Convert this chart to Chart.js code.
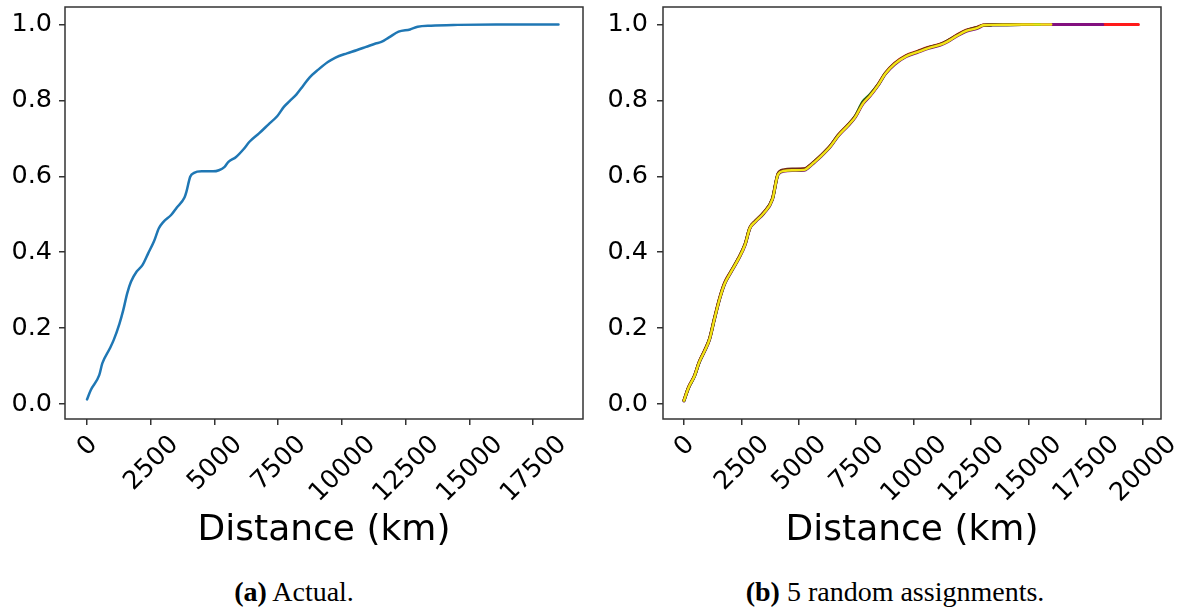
<!DOCTYPE html>
<html>
<head>
<meta charset="utf-8">
<script src="https://cdn.jsdelivr.net/npm/chart.js@4.4.1/dist/chart.umd.min.js"></script>
<style>
  html, body { margin: 0; background: #fff; width: 1181px; height: 609px; overflow: hidden; position: relative; }
  .pane { position: absolute; top: 0; height: 560px; }
  .cap { position: absolute; top: 576px; font: 28px "Liberation Serif", "Times New Roman", serif; color: #000; white-space: nowrap; transform: translateX(-50%); }
</style>
</head>
<body>
<div class="pane" style="left:0;width:595px"><canvas id="cA" width="595" height="560"></canvas></div>
<div class="pane" style="left:595px;width:586px"><canvas id="cB" width="586" height="560"></canvas></div>
<div class="cap" style="left:294px"><b>(a)</b> Actual.</div>
<div class="cap" style="left:895px"><b>(b)</b> 5 random assignments.</div>

<script>
// tick labels
const yTicks = [0, 0.2, 0.4, 0.6, 0.8, 1.0];
const xTicksA = [0, 2500, 5000, 7500, 10000, 12500, 15000, 17500];
const xTicksB = [0, 2500, 5000, 7500, 10000, 12500, 15000, 17500, 20000];

// (a) actual
const distA = [0, 150, 480, 600, 900, 1050, 1275, 1425, 1575, 1725, 1950, 2175, 2400, 2625, 2820, 3000, 3300, 3525, 3825, 3900,
  4050, 4200, 4500, 4950, 5175, 5400, 5550, 5850, 6150, 6375, 6750, 7125, 7470, 7725, 7950, 8220, 8475, 8730, 9075, 9450,
  9750, 10200, 10575, 10950, 11325, 11550, 11850, 12225, 12675, 12975, 13500, 14550, 16050, 18500];
const cdfA = [0.012, 0.037, 0.076, 0.107, 0.147, 0.169, 0.212, 0.248, 0.291, 0.322, 0.349, 0.366, 0.397, 0.428, 0.463, 0.480, 0.498, 0.518, 0.544, 0.559,
  0.599, 0.609, 0.613, 0.613, 0.616, 0.625, 0.638, 0.651, 0.672, 0.691, 0.713, 0.737, 0.759, 0.783, 0.798, 0.816, 0.838, 0.860, 0.881, 0.901,
  0.913, 0.924, 0.932, 0.941, 0.950, 0.954, 0.966, 0.981, 0.987, 0.994, 0.997, 0.999, 1.0, 1.0];

// (b) 5 random assignments
const distB = [0, 197, 459, 656, 902, 1115, 1311, 1557, 1770, 2049, 2377, 2656, 2869, 3115, 3475, 3852, 4098, 4344, 4754, 5246,
  5410, 5656, 5984, 6393, 6721, 7131, 7459, 7787, 8115, 8443, 8770, 9180, 9672, 10164, 10656, 11148, 11475, 11885, 12295, 12787,
  13033, 13443, 14754];
const cdfRed = [0.010, 0.044, 0.075, 0.110, 0.142, 0.173, 0.223, 0.281, 0.320, 0.350, 0.385, 0.421, 0.465, 0.483, 0.505, 0.541, 0.607, 0.616, 0.618, 0.619,
  0.625, 0.638, 0.656, 0.682, 0.709, 0.735, 0.758, 0.793, 0.815, 0.841, 0.872, 0.898, 0.918, 0.929, 0.940, 0.948, 0.957, 0.972, 0.985, 0.993,
  0.999, 1.0, 1.0];
const cdfPurple = [0.008, 0.042, 0.073, 0.108, 0.139, 0.170, 0.219, 0.277, 0.316, 0.347, 0.382, 0.418, 0.462, 0.480, 0.502, 0.538, 0.604, 0.613, 0.615, 0.616,
  0.622, 0.635, 0.653, 0.679, 0.706, 0.732, 0.755, 0.790, 0.812, 0.838, 0.869, 0.895, 0.915, 0.926, 0.937, 0.945, 0.954, 0.969, 0.982, 0.990,
  0.997, 0.999, 1.0];
const cdfGreen = [0.009, 0.043, 0.074, 0.109, 0.141, 0.172, 0.221, 0.279, 0.318, 0.349, 0.384, 0.420, 0.464, 0.482, 0.504, 0.540, 0.606, 0.615, 0.617, 0.618,
  0.624, 0.637, 0.655, 0.681, 0.708, 0.734, 0.758, 0.796, 0.816, 0.840, 0.871, 0.897, 0.917, 0.928, 0.939, 0.947, 0.956, 0.971, 0.984, 0.992,
  0.998, 0.999, 1.0];
const cdfBrown = [0.010, 0.044, 0.075, 0.110, 0.141, 0.172, 0.221, 0.279, 0.318, 0.349, 0.384, 0.420, 0.464, 0.482, 0.504, 0.541, 0.607, 0.617, 0.619, 0.620,
  0.625, 0.637, 0.655, 0.681, 0.708, 0.734, 0.757, 0.792, 0.814, 0.840, 0.871, 0.897, 0.917, 0.928, 0.939, 0.947, 0.956, 0.971, 0.984, 0.992,
  0.998, 0.999, 1.0];
const cdfYellow = [0.009, 0.043, 0.074, 0.109, 0.140, 0.171, 0.220, 0.278, 0.317, 0.348, 0.383, 0.419, 0.463, 0.481, 0.503, 0.539, 0.605, 0.614, 0.616, 0.617,
  0.623, 0.636, 0.654, 0.680, 0.707, 0.733, 0.756, 0.791, 0.813, 0.839, 0.870, 0.896, 0.916, 0.927, 0.938, 0.946, 0.955, 0.970, 0.983, 0.991,
  0.998, 0.999, 1.0];
const runs = [cdfRed, cdfPurple, cdfGreen, cdfBrown, cdfYellow];
const runEnd = [19800, 18250, 15500, 15200, 16000];
const runColor = ["#ff1a1a", "#82107f", "#0a7d12", "#6b2a18", "#f3e417"];

const FONT = '"DejaVu Sans", Verdana, sans-serif';

// box around the plot area, like matplotlib spines
const frame = {
  id: "frame",
  afterDraw(c) {
    const a = c.chartArea, ctx = c.ctx;
    ctx.save();
    ctx.strokeStyle = "#333";
    ctx.lineWidth = 1.5;
    ctx.strokeRect(a.left, a.top, a.right - a.left, a.bottom - a.top);
    ctx.restore();
  },
};

// 45 degree x labels, centred under each tick
const xLabels = {
  id: "xLabels",
  afterDraw(c) {
    const s = c.scales.x, ctx = c.ctx, fs = 25.5;
    ctx.save();
    ctx.font = fs + "px " + FONT;
    ctx.fillStyle = "#000";
    ctx.textAlign = "center";
    ctx.textBaseline = "alphabetic";
    s.ticks.forEach((t) => {
      const txt = String(t.value);
      const box = (ctx.measureText(txt).width + 0.73 * fs) * Math.SQRT1_2;
      ctx.save();
      ctx.translate(s.getPixelForValue(t.value) - 1, s.top + 13 + box / 2);
      ctx.rotate(-Math.PI / 4);
      ctx.fillText(txt, 0, 0.365 * fs);
      ctx.restore();
    });
    ctx.restore();
  },
};

function mk(el, datasets, xMin, xMax, xTicks, yW, yPad, padR) {
  return new Chart(el, {
    type: "line",
    data: { datasets },
    plugins: [frame, xLabels],
    options: {
      responsive: false,
      animation: false,
      events: [],
      layout: { padding: { top: 7, right: padR, bottom: 0, left: 0 } },
      plugins: { legend: { display: false }, tooltip: { enabled: false } },
      elements: { point: { radius: 0 }, line: { cubicInterpolationMode: "monotone", borderCapStyle: "round" } },
      scales: {
        x: {
          type: "linear",
          min: xMin,
          max: xMax,
          afterBuildTicks: (s) => (s.ticks = xTicks.map((v) => ({ value: v }))),
          afterFit: (s) => { s.height = 141; s.paddingLeft = 0; s.paddingRight = 0; },
          ticks: { display: false },
          grid: { drawOnChartArea: false, tickLength: 6, color: "#333", lineWidth: 1.5 },
          border: { display: false },
          title: {
            display: true,
            text: "Distance (km)",
            color: "#000",
            font: { family: FONT, size: 36, lineHeight: 1 },
            padding: { top: 0, bottom: 11 },
          },
        },
        y: {
          type: "linear",
          min: -0.0395,
          max: 1.0461,
          afterBuildTicks: (s) => (s.ticks = yTicks.map((v) => ({ value: v }))),
          afterFit: (s) => { s.width = yW; s.paddingTop = 0; s.paddingBottom = 0; },
          ticks: { color: "#000", padding: yPad, font: { family: FONT, size: 25.5 }, callback: (v) => v.toFixed(1) },
          grid: { drawOnChartArea: false, tickLength: 6, color: "#333", lineWidth: 1.5 },
          border: { display: false },
        },
      },
    },
  });
}

mk(
  document.getElementById("cA"),
  [{
    data: distA.map((x, i) => ({ x, y: cdfA[i] })),
    borderColor: "#1f77b4",
    borderWidth: 2.5,
    fill: false,
  }],
  -863, 19462, xTicksA, 65, 7, 12
);

mk(
  document.getElementById("cB"),
  runs.map((ys, k) => ({
    data: distB.map((x, i) => ({ x, y: ys[i] })).concat([{ x: runEnd[k], y: 1.0 }]),
    borderColor: runColor[k],
    borderWidth: k === runs.length - 1 ? 2.4 : 3.0,
    fill: false,
    order: runs.length - 1 - k,
  })),
  -915, 20784, xTicksB, 68, 9, 20
);
</script>
</body>
</html>
